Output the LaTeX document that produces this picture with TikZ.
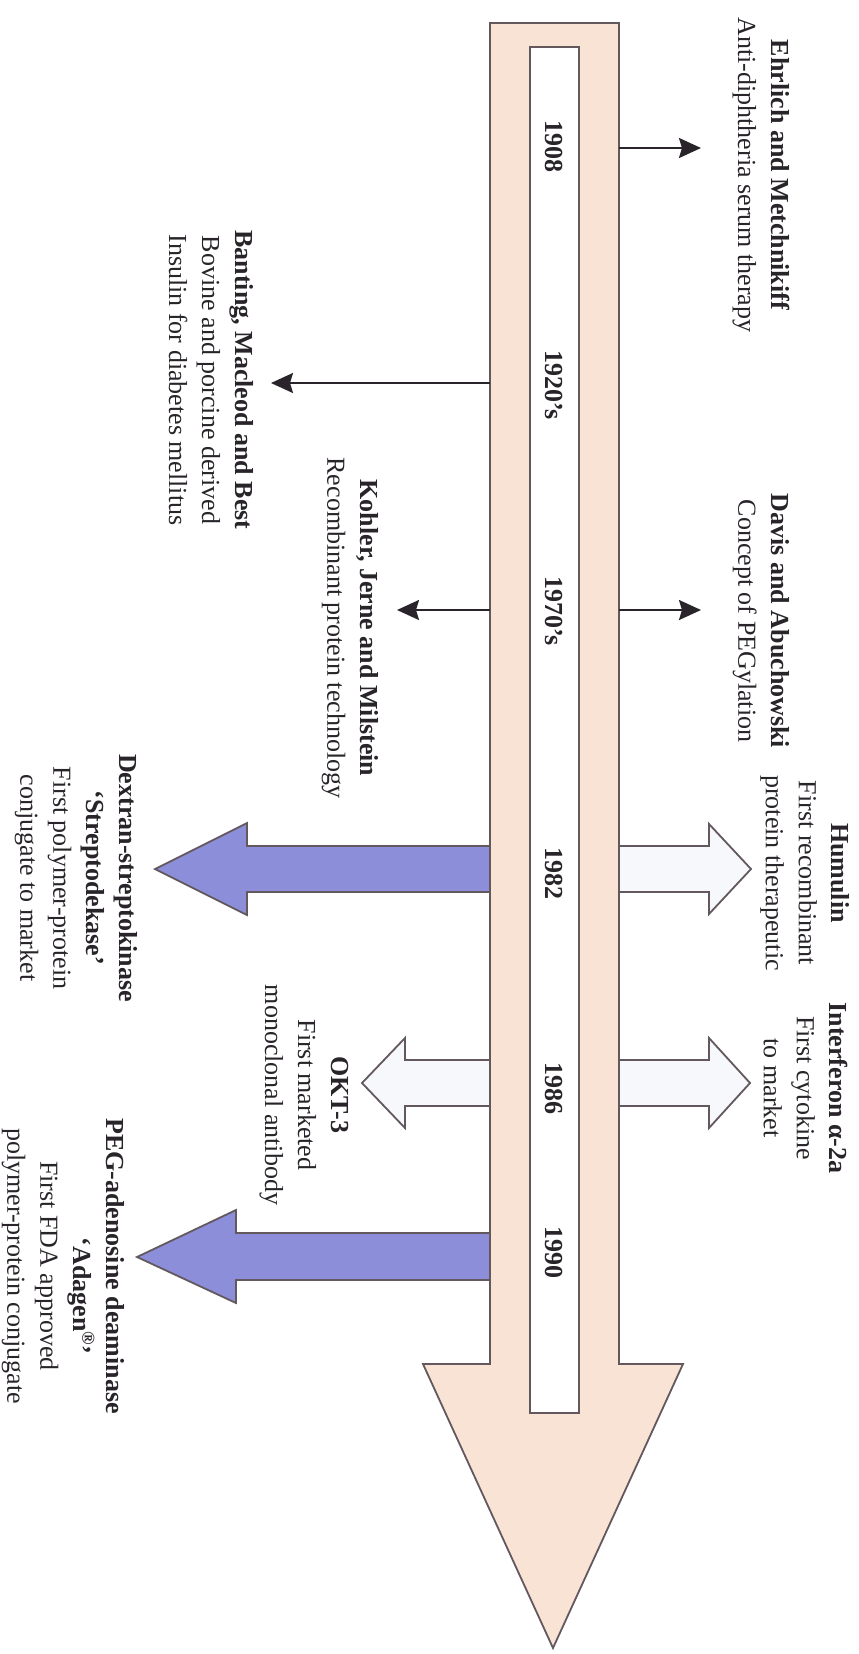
\documentclass[tikz,border=0pt]{standalone}
\usepackage{fontspec}
\setmainfont{Liberation Serif}
\usetikzlibrary{arrows.meta}
\definecolor{peach}{RGB}{248,227,213}
\definecolor{edgec}{RGB}{98,88,94}
\definecolor{bluef}{RGB}{141,142,218}
\definecolor{paleb}{RGB}{246,248,252}
\definecolor{ink}{RGB}{40,36,42}
\begin{document}
\begin{tikzpicture}[x=1pt,y=-1pt,
  lbl/.style={rotate=-90, align=center, font=\fontsize{26}{33}\selectfont, text=ink, inner sep=0pt},
  yr/.style={rotate=-90, font=\fontsize{26}{33}\selectfont\bfseries, text=ink, inner sep=0pt},
  conn/.style={draw=ink, line width=2pt, -{Stealth[length=22pt,width=20pt,inset=3pt]}},
  outline/.style={draw=edgec, line width=1.8pt, line join=miter},
]
\useasboundingbox (0,0) rectangle (859,1654);
\fill[white] (0,0) rectangle (859,1654);

% side block arrows
\filldraw[fill=bluef, outline] (490,846) -- (247,846) -- (247,823) -- (155,869) -- (247,915) -- (247,892) -- (490,892) -- cycle;
\filldraw[fill=bluef, outline] (490,1233) -- (236,1233) -- (236,1210) -- (137,1257) -- (236,1303) -- (236,1280) -- (490,1280) -- cycle;
\filldraw[fill=paleb, outline] (619,846) -- (709,846) -- (709,824) -- (751,869) -- (709,914) -- (709,892) -- (619,892) -- cycle;
\filldraw[fill=paleb, outline] (619,1060) -- (709,1060) -- (709,1038) -- (750,1083) -- (709,1128) -- (709,1106) -- (619,1106) -- cycle;
\filldraw[fill=paleb, outline] (490,1060) -- (405,1060) -- (405,1038) -- (362,1083) -- (405,1128) -- (405,1106) -- (490,1106) -- cycle;

% main timeline arrow
\filldraw[fill=peach, outline] (490,23) -- (619,23) -- (619,1364) -- (683,1364) -- (553,1648) -- (423,1364) -- (490,1364) -- cycle;
\filldraw[fill=white, outline] (530,47) rectangle (579,1413);

% years
\node[yr] (y1908) at (554,146) {1908};
\node[yr] (y1920) at (554,385) {1920’s};
\node[yr] (y1970) at (554,611) {1970’s};
\node[yr] (y1982) at (554,873) {1982};
\node[yr] (y1986) at (554,1088) {1986};
\node[yr] (y1990) at (554,1252) {1990};

% thin connectors
\coordinate (r1908) at (619,148); \coordinate (t1908) at (701,148);
\coordinate (l1920) at (490,383); \coordinate (t1920) at (271,383);
\coordinate (r1970) at (619,610); \coordinate (tr1970) at (701,610);
\coordinate (l1970) at (490,610); \coordinate (tl1970) at (397,610);
\draw[conn] (r1908) -- (t1908);
\draw[conn] (l1920) -- (t1920);
\draw[conn] (r1970) -- (tr1970);
\draw[conn] (l1970) -- (tl1970);

% labels
\node[lbl] (ehrlich) at (761,175) {\textbf{Ehrlich and Metchnikiff}\\Anti-diphtheria serum therapy};
\node[lbl] (davis) at (761,621) {\textbf{Davis and Abuchowski}\\Concept of PEGylation};
\node[lbl] (humulin) at (805,873) {\textbf{Humulin}\\First recombinant\\protein therapeutic};
\node[lbl] (interferon) at (806,1088) {\textbf{Interferon α-2a}\\First cytokine\\to market};
\node[lbl] (banting) at (211,380) {\textbf{Banting, Macleod and Best}\\Bovine and porcine derived\\Insulin for diabetes mellitus};
\node[lbl] (kohler) at (350,628) {\textbf{Kohler, Jerne and Milstein}\\Recombinant protein technology};
\node[lbl] (dextran) at (76,878) {\textbf{Dextran-streptokinase}\\\textbf{‘Streptodekase’}\\First polymer-protein\\conjugate to market};
\node[lbl] (okt) at (304,1095) {\textbf{OKT-3}\\First marketed\\monoclonal antibody};
\node[lbl] (peg) at (63,1266) {\textbf{PEG-adenosine deaminase}\\\hspace*{60pt}\textbf{‘Adagen\textsuperscript{®}’}\\First FDA approved\\polymer-protein conjugate};
\end{tikzpicture}
\end{document}
